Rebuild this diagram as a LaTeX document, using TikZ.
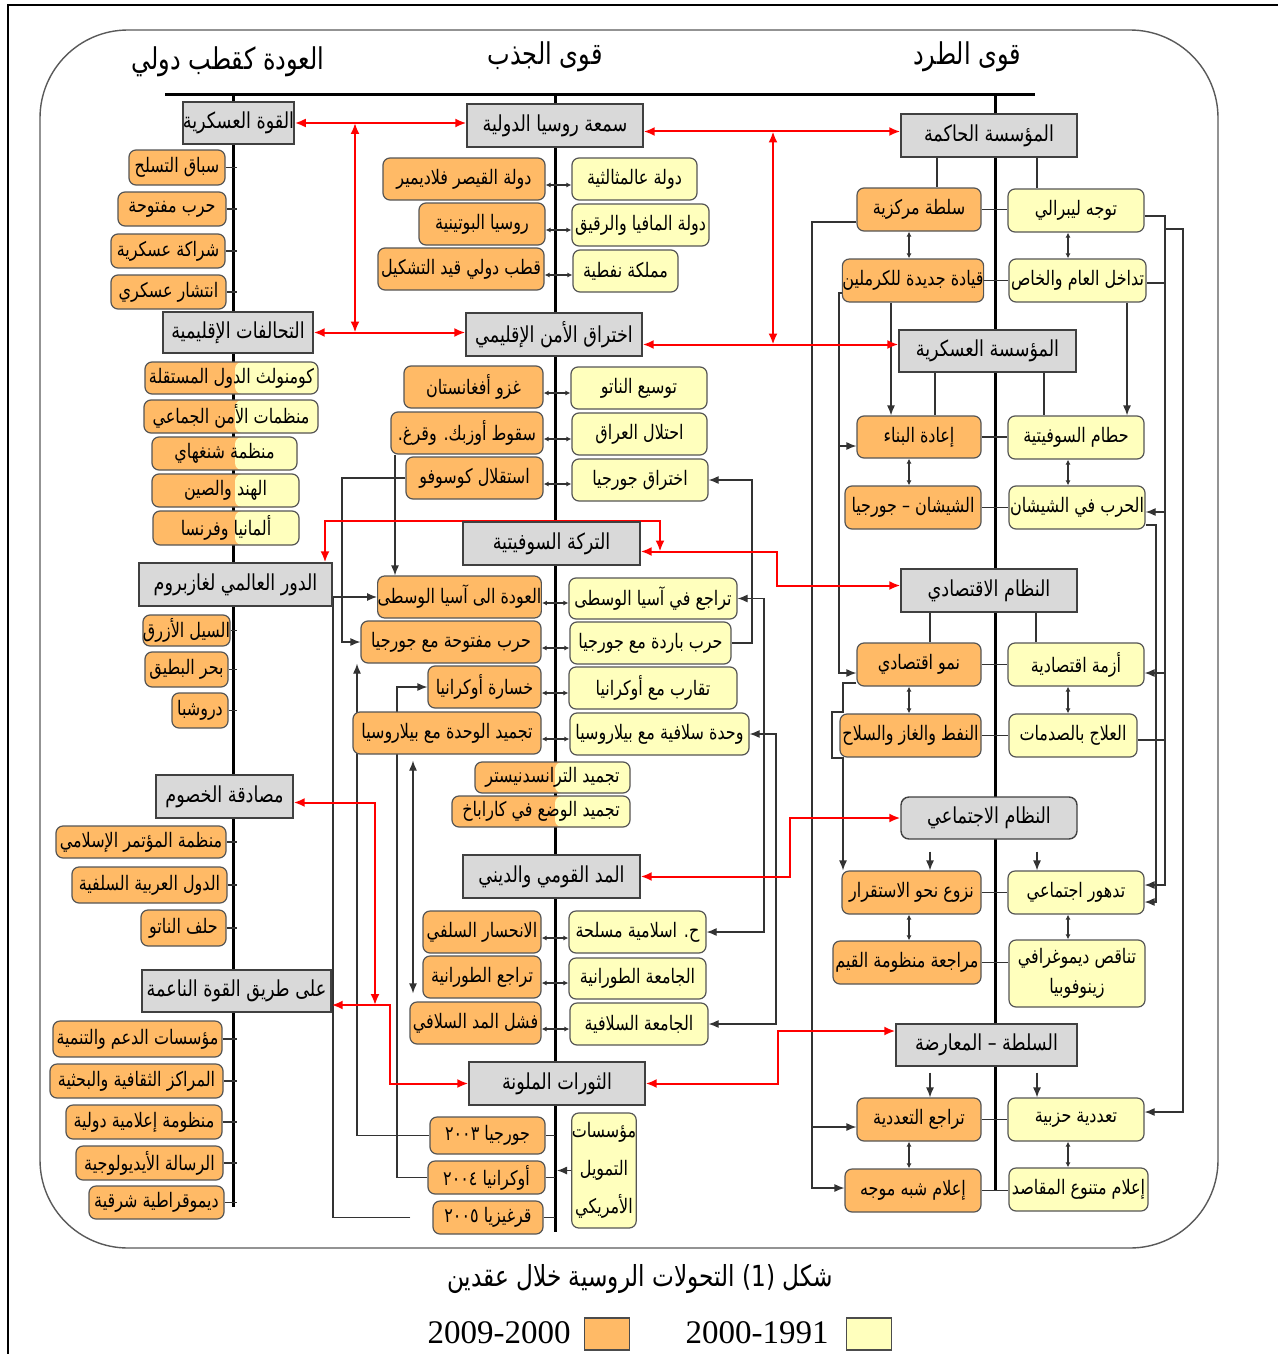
\documentclass[tikz,border=0pt]{standalone}
\usepackage{fontspec}
\usetikzlibrary{arrows.meta,calc}
\TeXXeTstate=1
\newfontfamily\ar[Script=Arabic,FakeStretch=0.8]{DejaVu Sans}
\newfontfamily\lsr{Liberation Serif}
\definecolor{ocol}{RGB}{255,186,102}
\definecolor{ycol}{RGB}{255,255,189}
\definecolor{gcol}{RGB}{217,217,217}
\definecolor{bcol}{RGB}{85,85,85}
\pgfdeclarelayer{bg}
\pgfsetlayers{bg,main}
\tikzset{
 bxbase/.style={inner sep=0pt, font=\ar\fontsize{10}{12}\selectfont, draw=bcol, line width=0.6pt},
 gbox/.style={bxbase, fill=gcol, draw=black!75, line width=0.7pt, font=\ar\fontsize{11}{13}\selectfont},
 gboxr/.style={gbox, rounded corners=4pt},
 obox/.style={bxbase, fill=ocol, rounded corners=3.5pt},
 ybox/.style={bxbase, fill=ycol, rounded corners=3.5pt},
 halfL/.style={obox, path picture={\fill[ycol] (path picture bounding box.south -| splitL) rectangle (path picture bounding box.north east);}},
 halfM/.style={obox, path picture={\fill[ycol] (path picture bounding box.south -| splitM) rectangle (path picture bounding box.north east);}},
 spine/.style={draw=black, line width=1.5pt},
 thinln/.style={draw=black!80, line width=0.6pt},
 thar/.style={thinln, >={Latex[length=5pt,width=4pt]}, ->},
 thdb/.style={thinln, >={Latex[length=5pt,width=4pt]}, <->},
 tinyar/.style={thinln, >={Latex[length=2.5pt,width=2.5pt]}, <->},
 redln/.style={draw=red, line width=1pt},
 redar/.style={redln, >={Latex[length=5.5pt,width=4.5pt]}, <->},
 ttl/.style={font=\ar\fontsize{15}{18}\selectfont, inner sep=0pt},
}
\newcommand\bx[7]{%
  \pgfmathsetmacro\bxcx{(#3+#5)/2}%
  \pgfmathsetmacro\bxcy{(#4+#6)/2}%
  \pgfmathsetmacro\bxw{(#5-#3)/2}%
  \pgfmathsetmacro\bxh{(#6-#4)/2}%
  \node[#1, minimum width=\bxw pt, minimum height=\bxh pt] (#2) at (\bxcx,\bxcy) {#7};}
\begin{document}
\begin{tikzpicture}[x=0.5pt,y=-0.5pt]
\useasboundingbox (0,0) rectangle (1278,1354);
\coordinate (sL) at (233,0);
\coordinate (sM) at (555,0);
\coordinate (sR) at (995,0);
\coordinate (splitL) at (235,0);
\coordinate (splitM) at (555,0);
% frame
\draw[black, line width=0.8pt] (8,1354) -- (8,5) -- (1278,5);
\draw[black!65, line width=0.7pt, rounded corners=44pt] (40,30) rectangle (1218,1248);
% titles
\node[ttl] (t1) at (228,62) {\beginR العودة كقطب دولي\endR};
\node[ttl] (t2) at (545,57) {\beginR قوى الجذب\endR};
\node[ttl] (t3) at (967,57) {\beginR قوى الطرد\endR};
% LEFT
\bx{gbox}{mil}{183}{102}{294}{144}{\beginR القوة العسكرية\endR}
\bx{obox}{la1}{129}{150}{225}{185}{\beginR سباق التسلح\endR}
\bx{obox}{la2}{118}{192}{226}{226}{\beginR حرب مفتوحة\endR}
\bx{obox}{la3}{111}{234}{225}{268}{\beginR شراكة عسكرية\endR}
\bx{obox}{la4}{111}{275}{226}{309}{\beginR انتشار عسكري\endR}
\bx{gbox}{alli}{163}{312}{313}{353}{\beginR التحالفات الإقليمية\endR}
\bx{halfL}{lb1}{145}{362}{318}{394}{\beginR كومنولث الدول المستقلة\endR}
\bx{halfL}{lb2}{144}{400}{318}{433}{\beginR منظمات الأمن الجماعي\endR}
\bx{halfL}{lb3}{152}{437}{297}{470}{\beginR منظمة شنغهاي\endR}
\bx{halfL}{lb4}{152}{474}{299}{507}{\beginR الهند والصين\endR}
\bx{halfL}{lb5}{153}{511}{299}{545}{\beginR ألمانيا وفرنسا\endR}
\bx{gbox}{gaz}{139}{563}{332}{606}{\beginR الدور العالمي لغازبروم\endR}
\bx{obox}{lc1}{145}{615}{228}{646}{\beginR السيل الأزرق\endR}
\bx{obox}{lc2}{145}{652}{228}{687}{\beginR بحر البطيق\endR}
\bx{obox}{lc3}{172}{693}{228}{728}{\beginR دروشبا\endR}
\bx{gbox}{mus}{156}{775}{293}{818}{\beginR مصادقة الخصوم\endR}
\bx{obox}{ld1}{56}{826}{226}{858}{\beginR منظمة المؤتمر الإسلامي\endR}
\bx{obox}{ld2}{72}{867}{227}{903}{\beginR الدول العربية السلفية\endR}
\bx{obox}{ld3}{141}{910}{226}{946}{\beginR حلف الناتو\endR}
\bx{gbox}{soft}{142}{970}{331}{1012}{\beginR على طريق القوة الناعمة\endR}
\bx{obox}{le1}{53}{1021}{222}{1057}{\beginR مؤسسات الدعم والتنمية\endR}
\bx{obox}{le2}{50}{1064}{223}{1098}{\beginR المراكز الثقافية والبحثية\endR}
\bx{obox}{le3}{66}{1105}{222}{1139}{\beginR منظومة إعلامية دولية\endR}
\bx{obox}{le4}{76}{1146}{223}{1180}{\beginR الرسالة الأيديولوجية\endR}
\bx{obox}{le5}{89}{1186}{224}{1219}{\beginR ديموقراطية شرقية\endR}
% MIDDLE
\bx{gbox}{rep}{467}{104}{643}{147}{\beginR سمعة روسيا الدولية\endR}
\bx{obox}{ma1}{383}{158}{545}{200}{\beginR دولة القيصر فلاديمير\endR}
\bx{ybox}{mb1}{572}{158}{697}{200}{\beginR دولة عالمثالثية\endR}
\bx{obox}{ma2}{419}{203}{545}{245}{\beginR روسيا البوتينية\endR}
\bx{ybox}{mb2}{572}{204}{709}{246}{\beginR دولة المافيا والرقيق\endR}
\bx{obox}{ma3}{378}{248}{544}{290}{\beginR قطب دولي قيد التشكيل\endR}
\bx{ybox}{mb3}{573}{250}{678}{292}{\beginR مملكة نفطية\endR}
\bx{gbox}{sec}{466}{313}{642}{356}{\beginR اختراق الأمن الإقليمي\endR}
\bx{obox}{mc1}{404}{366}{543}{408}{\beginR غزو أفغانستان\endR}
\bx{ybox}{md1}{571}{367}{707}{409}{\beginR توسيع الناتو\endR}
\bx{obox}{mc2}{391}{412}{543}{454}{\beginR سقوط أوزبك\kern0pt. وقرغ\kern0pt.\endR}
\bx{ybox}{md2}{572}{413}{707}{455}{\beginR احتلال العراق\endR}
\bx{obox}{mc3}{406}{457}{543}{499}{\beginR استقلال كوسوفو\endR}
\bx{ybox}{md3}{572}{459}{708}{501}{\beginR اختراق جورجيا\endR}
\bx{gbox}{sov}{463}{522}{640}{565}{\beginR التركة السوفيتية\endR}
\bx{obox}{me1}{378}{576}{541}{618}{\beginR العودة الى آسيا الوسطى\endR}
\bx{ybox}{mf1}{569}{578}{737}{619}{\beginR تراجع في آسيا الوسطى\endR}
\bx{obox}{me2}{361}{621}{541}{663}{\beginR حرب مفتوحة مع جورجيا\endR}
\bx{ybox}{mf2}{570}{622}{731}{664}{\beginR حرب باردة مع جورجيا\endR}
\bx{obox}{me3}{428}{666}{541}{708}{\beginR خسارة أوكرانيا\endR}
\bx{ybox}{mf3}{569}{667}{737}{709}{\beginR تقارب مع أوكرانيا\endR}
\bx{obox}{me4}{353}{712}{541}{754}{\beginR تجميد الوحدة مع بيلاروسيا\endR}
\bx{ybox}{mf4}{570}{713}{749}{755}{\beginR وحدة سلافية مع بيلاروسيا\endR}
\bx{halfM}{mh1}{475}{762}{630}{793}{\beginR تجميد الترانسدنيستر\endR}
\bx{halfM}{mh2}{452}{796}{630}{827}{\beginR تجميد الوضع في كاراباخ\endR}
\bx{gbox}{nat}{463}{855}{640}{898}{\beginR المد القومي والديني\endR}
\bx{obox}{mg1}{423}{911}{541}{953}{\beginR الانحسار السلفي\endR}
\bx{ybox}{mk1}{569}{911}{706}{953}{\beginR ح\kern0pt. اسلامية مسلحة\endR}
\bx{obox}{mg2}{423}{956}{541}{998}{\beginR تراجع الطورانية\endR}
\bx{ybox}{mk2}{569}{958}{706}{999}{\beginR الجامعة الطورانية\endR}
\bx{obox}{mg3}{410}{1002}{541}{1044}{\beginR فشل المد السلافي\endR}
\bx{ybox}{mk3}{570}{1003}{708}{1045}{\beginR الجامعة السلافية\endR}
\bx{gbox}{col}{469}{1062}{645}{1105}{\beginR الثورات الملونة\endR}
\bx{obox}{mm1}{430}{1117}{545}{1154}{\beginR جورجيا ٢٠٠٣\endR}
\bx{obox}{mm2}{428}{1161}{545}{1194}{\beginR أوكرانيا ٢٠٠٤\endR}
\bx{obox}{mm3}{433}{1201}{543}{1234}{\beginR قرغيزيا ٢٠٠٥\endR}
\node[ybox, align=center, minimum width=32pt, minimum height=57.5pt, font=\ar\fontsize{10}{19}\selectfont] (myy) at (604,1170.5) {مؤسسات\\التمويل\\الأمريكي};
% RIGHT
\bx{gbox}{gov}{901}{114}{1077}{157}{\beginR المؤسسة الحاكمة\endR}
\bx{obox}{ra1}{857}{188}{981}{231}{\beginR سلطة مركزية\endR}
\bx{ybox}{rb1}{1008}{189}{1144}{232}{\beginR توجه ليبرالي\endR}
\bx{obox}{ra2}{845}{259}{981}{302}{\beginR قيادة جديدة للكرملين\endR}
\bx{ybox}{rb2}{1009}{259}{1146}{302}{\beginR تداخل العام والخاص\endR}
\bx{gbox}{army}{899}{330}{1076}{372}{\beginR المؤسسة العسكرية\endR}
\bx{obox}{rc1}{857}{416}{981}{458}{\beginR إعادة البناء\endR}
\bx{ybox}{rd1}{1008}{416}{1144}{459}{\beginR حطام السوفيتية\endR}
\bx{obox}{rc2}{845}{486}{981}{529}{\beginR الشيشان – جورجيا\endR}
\bx{ybox}{rd2}{1009}{486}{1145}{529}{\beginR الحرب في الشيشان\endR}
\bx{gbox}{eco}{901}{569}{1077}{612}{\beginR النظام الاقتصادي\endR}
\bx{obox}{re1}{857}{643}{981}{686}{\beginR نمو اقتصادي\endR}
\bx{ybox}{rf1}{1008}{643}{1144}{686}{\beginR أزمة اقتصادية\endR}
\bx{obox}{re2}{840}{714}{981}{757}{\beginR النفط والغاز والسلاح\endR}
\bx{ybox}{rf2}{1009}{714}{1137}{757}{\beginR العلاج بالصدمات\endR}
\bx{gboxr}{soc}{901}{797}{1077}{839}{\beginR النظام الاجتماعي\endR}
\bx{obox}{rg1}{842}{871}{981}{914}{\beginR نزوع نحو الاستقرار\endR}
\bx{ybox}{rk1}{1008}{871}{1144}{914}{\beginR تدهور اجتماعي\endR}
\bx{obox}{rg2}{833}{941}{981}{984}{\beginR مراجعة منظومة القيم\endR}
\node[ybox, align=center, minimum width=68pt, minimum height=33.5pt, font=\ar\fontsize{10}{15}\selectfont] (rk2) at (1077,973.5) {\beginR تناقص ديموغرافي\endR\\زينوفوبيا};
\bx{gbox}{pow}{896}{1024}{1077}{1066}{\beginR السلطة – المعارضة\endR}
\bx{obox}{rm1}{857}{1098}{981}{1141}{\beginR تراجع التعددية\endR}
\bx{ybox}{rn1}{1008}{1098}{1144}{1141}{\beginR تعددية حزبية\endR}
\bx{obox}{rm2}{845}{1169}{981}{1212}{\beginR إعلام شبه موجه\endR}
\bx{ybox}{rn2}{1009}{1168}{1148}{1211}{\beginR إعلام متنوع المقاصد\endR}
% caption and legend
\node[font=\ar\fontsize{14.5}{17}\selectfont, inner sep=0pt] (cap) at (640,1279) {\beginR شكل (1) التحولات الروسية خلال عقدين\endR};
\node[font=\lsr\fontsize{16.5}{19}\selectfont, inner sep=0pt] (lg1) at (499,1333) {2009-2000};
\node[draw=black!70, fill=ocol, minimum width=22.5pt, minimum height=16pt, inner sep=0pt, line width=0.6pt] (sq1) at (607,1334) {};
\node[font=\lsr\fontsize{16.5}{19}\selectfont, inner sep=0pt] (lg2) at (757,1333) {2000-1991};
\node[draw=black!70, fill=ycol, minimum width=22.5pt, minimum height=16pt, inner sep=0pt, line width=0.6pt] (sq2) at (869,1334) {};
% ---------- connectors
\begin{pgfonlayer}{bg}
\coordinate (tl) at (165,95);
\coordinate (tr) at (1035,95);
\draw[spine] (tl) -- (tr);
\draw[spine] (sL |- tl) -- (233,1207);
\draw[spine] (sM |- tl) -- (555,1232);
\draw[spine] (sR |- tl) -- (995,1190);
% left ticks
\foreach \n in {la1,la2,la3,la4,lc1,lc2,lc3,ld1,ld2,ld3,le1,le2,le3,le4,le5}
  \draw[thinln] (\n.east) -- ([xshift=2pt]\n.east -| sL);
% middle rows
\foreach \a/\b in {ma1/mb1,ma2/mb2,ma3/mb3,mc1/md1,mc2/md2,mc3/md3,me1/mf1,me2/mf2,me3/mf3,me4/mf4,mg1/mk1,mg2/mk2,mg3/mk3}
  \draw[tinyar] ([yshift=-3pt]\a.east) -- ([yshift=-3pt]\a.east -| \b.west);
\foreach \n in {mm1,mm2,mm3} \draw[thinln] (\n.east) -- (\n.east -| sM);
\draw[thar] (myy.west) -- ([xshift=1pt]myy.west -| sM);
% right rows
\foreach \a/\b in {ra1/rb1,ra2/rb2,rc1/rd1,rc2/rd2,re1/rf1,re2/rf2,rg1/rk1,rg2/rk2,rm1/rn1,rm2/rn2}
  \draw[thinln] (\a.east) -- (\a.east -| \b.west);
\foreach \a/\b in {ra1/ra2,rc1/rc2,re1/re2,rg1/rg2,rm1/rm2}
  \draw[tinyar] (909,0 |- \a.south) -- (909,0 |- \b.north);
\foreach \a/\b in {rb1/rb2,rd1/rd2,rf1/rf2,rk1/rk2,rn1/rn2}
  \draw[tinyar] (1068,0 |- \a.south) -- (1068,0 |- \b.north);
\draw[thinln] (gov.south -| 937,0) -- (937,0 |- ra1.north);
\draw[thinln] (gov.south -| 1037,0) -- (1037,0 |- rb1.north);
\draw[thinln] (army.south -| 935,0) -- (935,0 |- rc1.north);
\draw[thinln] (army.south -| 1044,0) -- (1044,0 |- rd1.north);
\draw[thinln] (eco.south -| 930,0) -- (930,0 |- re1.north);
\draw[thinln] (eco.south -| 1036,0) -- (1036,0 |- rf1.north);
\draw[thar] ([yshift=-6pt]soc.south -| 930,0) -- (930,0 |- rg1.north);
\draw[thar] ([yshift=-6pt]soc.south -| 1037,0) -- (1037,0 |- rk1.north);
\draw[thar] ([yshift=-3pt]pow.south -| 930,0) -- (930,0 |- rm1.north);
\draw[thar] ([yshift=-3pt]pow.south -| 1037,0) -- (1037,0 |- rn1.north);
\draw[thar] (891,0 |- ra2.south) -- (891,0 |- rc1.north);
\draw[thar] (1127,0 |- rb2.south) -- (1127,0 |- rd1.north);
% right column left side
\draw[thar] (ra1.west |- 0,222) -- (812,222) -- (812,1188) -- (rm2.west |- 0,1188);
\draw[thar] (812,1127) -- (rm1.west |- 0,1127);
\draw[thar] (ra2.west |- 0,293) -- (839,293) -- (839,673) -- (re1.west |- 0,673);
\draw[thar] (839,446) -- (rc1.west |- 0,446);
\draw[thar] (re1.west |- 0,683) -- (843,683) -- (843,712) -- (832,712) -- (832,758) -- (843,758) -- (843,0 |- rg1.north);
% right column right side
\draw[thar] (rb1.east |- 0,216) -- (1165,216) -- (1165,885) -- (rk1.east |- 0,885);
\draw[thinln] (rb2.east |- 0,283) -- (1165,283);
\draw[thinln] (rf2.east |- 0,740) -- (1165,740);
\draw[thar] (1165,512) -- (rd2.east |- 0,512);
\draw[thar] (1165,673) -- (rf1.east |- 0,673);
\draw[thar] (1165,229) -- (1183,229) -- (1183,1112) -- (rn1.east |- 0,1112);
\draw[thar] (rd2.east |- 0,525) -- (1156,525) -- (1156,902) -- (rk1.east |- 0,902);
% middle column left side
\draw[thar] (395,0 |- mc2.south) -- (395,0 |- me1.north);
\draw[thar] (mc3.west) -- (mc3.west -| 342,0) -- (342,0 |- me2.west) -- (me2.west);
\draw[thar, shorten <=11pt] (mm3.west) -- (mm3.west -| 333,0) -- (333,0 |- me1.west) -- (me1.west);
\draw[thar] (mm1.west) -- (mm1.west -| 357,0) -- (357,0 |- me2.south);
\draw[thar] (mm2.west) -- (mm2.west -| 397,0) -- (397,0 |- me3.west) -- (me3.west);
\draw[thdb, shorten <=3pt, shorten >=4pt] (413,0 |- me4.south) -- (413,0 |- mg3.north);
% middle column right side
\draw[thar] (mf2.east) -- (mf2.east -| 752,0) -- (752,0 |- md3.east) -- (md3.east);
\draw[thdb] (mk1.east) -- (mk1.east -| 764,0) -- (764,0 |- mf1.east) -- (mf1.east);
\draw[thdb] (mk3.east) -- (mk3.east -| 776,0) -- (776,0 |- mf4.east) -- (mf4.east);
% red links
\coordinate (repE) at ($(rep.east)+(0,6)$);
\coordinate (secE) at ($(sec.east)+(0,10)$);
\coordinate (sovE) at ($(sov.east)+(0,8)$);
\coordinate (ecoW) at ($(eco.west)+(0,-5)$);
\coordinate (powW) at ($(pow.west)+(0,-14)$);
\coordinate (musE) at ($(mus.east)+(0,6)$);
\coordinate (softE) at ($(soft.east)+(0,14)$);
\draw[redar] (mil.east) -- (mil.east -| rep.west);
\draw[redar] (alli.east) -- (alli.east -| sec.west);
\draw[redar] (355,0 |- mil.east) -- (355,0 |- alli.east);
\draw[redar] (repE) -- (repE -| gov.west);
\draw[redar] (secE) -- (secE -| army.west);
\draw[redar] (773,0 |- repE) -- (773,0 |- secE);
\draw[redar] (sovE) -- (sovE -| 777,0) -- (777,0 |- ecoW) -- (ecoW);
\draw[redar] (325,0 |- gaz.north) -- (325,521) -- (660,521) -- (660,0 |- sovE);
\draw[redar] (nat.east) -- (nat.east -| 790,0) -- (790,0 |- soc.west) -- (soc.west);
\draw[redar] (col.east) -- (col.east -| 778,0) -- (778,0 |- powW) -- (powW);
\draw[redar] (musE) -- (musE -| 375,0) -- (375,0 |- softE);
\draw[redar] (softE) -- (softE -| 390,0) -- (390,0 |- col.west) -- (col.west);
\end{pgfonlayer}
\end{tikzpicture}
\end{document}
